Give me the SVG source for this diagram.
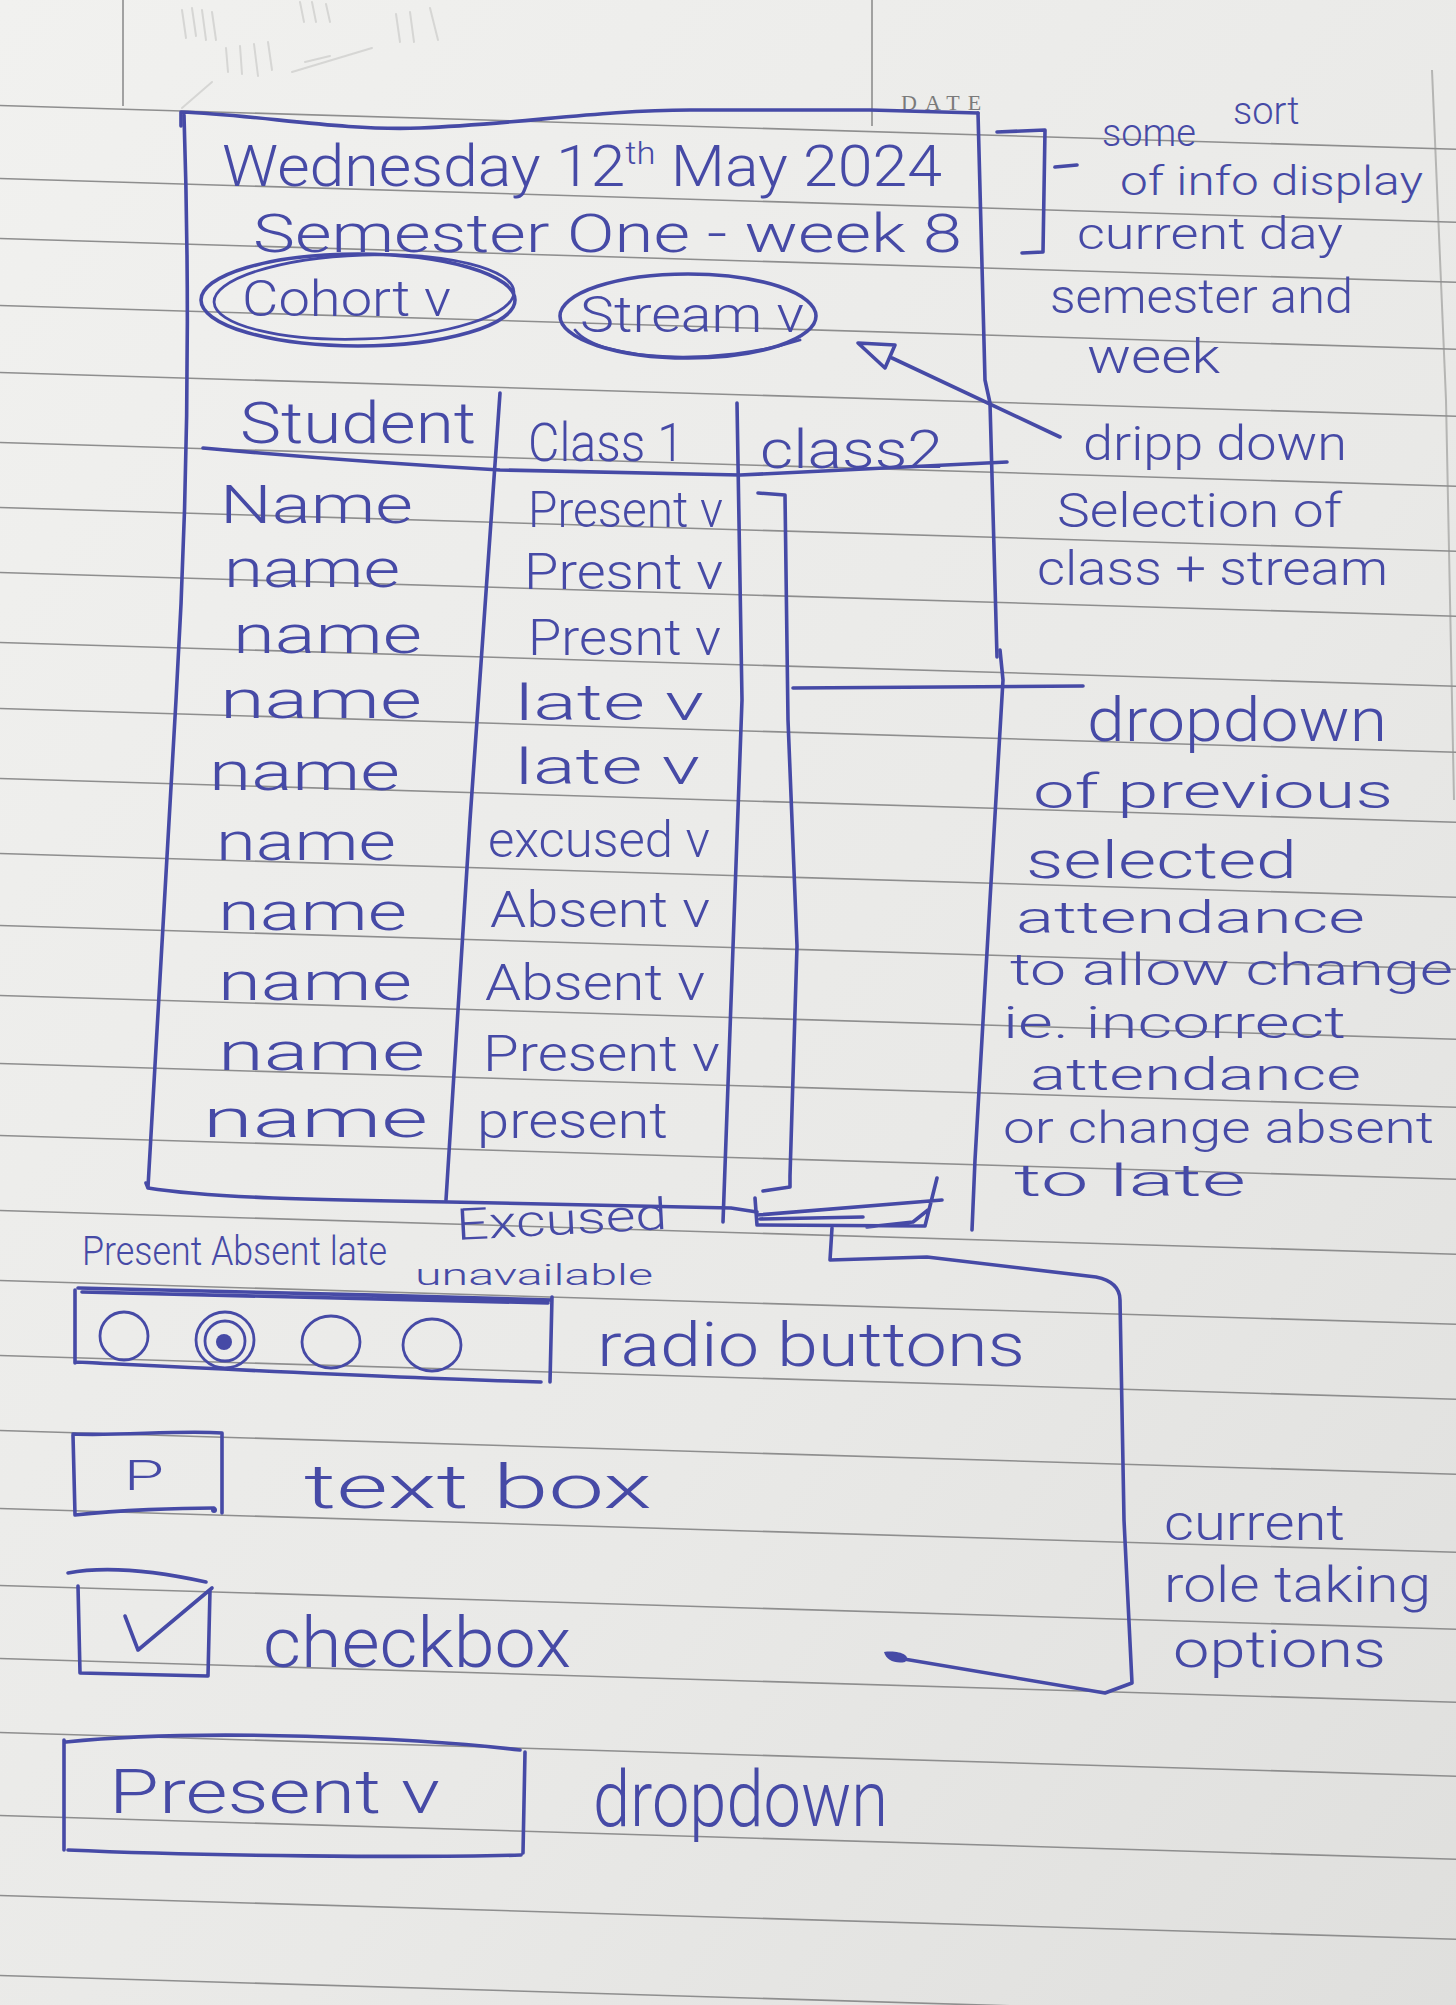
<svg xmlns="http://www.w3.org/2000/svg" width="1456" height="2005" viewBox="0 0 1456 2005">
<defs>
<linearGradient id="paperGrad" x1="0" y1="0" x2="1" y2="1">
<stop offset="0" stop-color="#f1f1ef"/>
<stop offset="0.6" stop-color="#e9e9e7"/>
<stop offset="1" stop-color="#dfdfdd"/>
</linearGradient>
<style>
.rule{stroke:#8e8e8e;stroke-width:1.6;fill:none}
.faint{stroke:#d6d6d4;stroke-width:2;fill:none;stroke-linecap:round}
.ink{fill:none;stroke:#464aa6;stroke-width:3.6;stroke-linecap:round;stroke-linejoin:round}
.inkThin{fill:none;stroke:#464aa6;stroke-width:2.8;stroke-linecap:round;stroke-linejoin:round}
.t{fill:#464aa6;font-family:Roboto,"DejaVu Sans",sans-serif;font-weight:300}
.date{fill:#7a7a7a;font-family:"Liberation Serif","DejaVu Serif",serif;font-size:22px;letter-spacing:8px}
</style>
</defs>

<g id="paper">
<rect x="0" y="0" width="1456" height="2005" fill="url(#paperGrad)"/>
<path class="rule" d="M123,0 L123,106 M872,0 L872,126"/>
<path d="M1432,70 L1446,400 L1454,800" stroke="#b5b5b3" stroke-width="2" fill="none"/>
<g id="ruled-lines">
<path class="rule" d="M0,105.5 L1456,149.2 M0,178.5 L1456,222.2 M0,238.5 L1456,282.2 M0,305.5 L1456,349.2 M0,372.5 L1456,416.2 M0,442.5 L1456,486.2 M0,507.5 L1456,551.2 M0,572.5 L1456,616.2 M0,642.5 L1456,686.2 M0,708.5 L1456,752.2 M0,778.5 L1456,822.2 M0,853.5 L1456,897.2 M0,925.5 L1456,969.2 M0,995.5 L1456,1039.2 M0,1063.5 L1456,1107.2 M0,1135.5 L1456,1179.2 M0,1210.5 L1456,1254.2 M0,1280.5 L1456,1324.2 M0,1355.5 L1456,1399.2 M0,1430.5 L1456,1474.2 M0,1508.5 L1456,1552.2 M0,1585.5 L1456,1629.2 M0,1658.5 L1456,1702.2 M0,1732.5 L1456,1776.2 M0,1815.5 L1456,1859.2 M0,1895.5 L1456,1939.2 M0,1975.5 L1456,2019.2"/>
</g>
<text class="date" x="901" y="110">DATE</text>
<g id="pencil-marks">
<path class="faint" d="M182,10 L186,38 M192,8 L196,36 M202,10 L206,40 M212,12 L216,40 M300,2 L304,22 M312,2 L316,22 M326,4 L330,22 M396,14 L400,42 M410,12 L414,42 M430,8 L438,40 M226,48 L228,72 M240,46 L242,74 M254,44 L258,76 M268,42 L272,70 M292,72 L372,48 M305,62 L330,56 M182,108 L212,82"/>
</g>
</g>

<g id="attendance-frame">
<path class="ink" d="M181,126 L181,112 C260,115 340,131 420,128 C520,124 600,110 690,110 L870,110 L978,113"/>
<path class="ink" d="M184,115 C190,300 188,500 176,700 L148,1187"/>
<path class="ink" d="M978,113 L985,380 L990,403 L997,657"/>
<path class="ink" d="M1000,650 L1003,680 L990,900 L975,1160 L972,1230"/>
<path class="ink" d="M146,1183 L148,1188 C210,1198 320,1200 449,1202 L731,1208 L757,1212"/>
</g>

<g id="header-info">
<text class="t" x="222" y="186" font-size="58" textLength="720" lengthAdjust="spacingAndGlyphs">Wednesday 12<tspan font-size="32" dy="-22">th</tspan><tspan dy="22"> May 2024</tspan></text>
<text class="t" x="253" y="252" font-size="54" textLength="709" lengthAdjust="spacingAndGlyphs">Semester One - week 8</text>
</g>

<g id="cohort-dropdown">
<ellipse class="ink" cx="358" cy="300" rx="157" ry="46"/>
<ellipse class="inkThin" cx="364" cy="297" rx="150" ry="42" transform="rotate(-2 364 297)"/>
<text class="t" x="242" y="316" font-size="50" textLength="209" lengthAdjust="spacingAndGlyphs">Cohort v</text>
</g>

<g id="stream-dropdown">
<ellipse class="ink" cx="688" cy="316" rx="128" ry="42"/>
<path class="inkThin" d="M575,330 C600,362 720,366 800,340"/>
<text class="t" x="580" y="332" font-size="50" textLength="224" lengthAdjust="spacingAndGlyphs">Stream v</text>
</g>

<g id="attendance-table">
<path class="ink" d="M203,448 C280,455 360,462 500,470 L740,475 L1007,462"/>
<path class="ink" d="M500,393 L470,820 L446,1200"/>
<path class="ink" d="M737,403 L742,700 L723,1222"/>
<text class="t" x="240" y="443" font-size="58" textLength="236" lengthAdjust="spacingAndGlyphs">Student</text>
<text class="t" x="528" y="461" font-size="54" textLength="156" lengthAdjust="spacingAndGlyphs">Class 1</text>
<text class="t" x="760" y="468" font-size="54" textLength="183" lengthAdjust="spacingAndGlyphs">class2</text>

<text class="t" x="220" y="523" font-size="53" textLength="193" lengthAdjust="spacingAndGlyphs">Name</text>
<text class="t" x="224" y="587" font-size="53" textLength="176" lengthAdjust="spacingAndGlyphs">name</text>
<text class="t" x="233" y="653" font-size="53" textLength="189" lengthAdjust="spacingAndGlyphs">name</text>
<text class="t" x="220" y="718" font-size="53" textLength="202" lengthAdjust="spacingAndGlyphs">name</text>
<text class="t" x="209" y="790" font-size="53" textLength="191" lengthAdjust="spacingAndGlyphs">name</text>
<text class="t" x="216" y="860" font-size="53" textLength="180" lengthAdjust="spacingAndGlyphs">name</text>
<text class="t" x="218" y="930" font-size="53" textLength="189" lengthAdjust="spacingAndGlyphs">name</text>
<text class="t" x="218" y="1000" font-size="53" textLength="194" lengthAdjust="spacingAndGlyphs">name</text>
<text class="t" x="218" y="1070" font-size="53" textLength="207" lengthAdjust="spacingAndGlyphs">name</text>
<text class="t" x="203" y="1137" font-size="53" textLength="225" lengthAdjust="spacingAndGlyphs">name</text>

<text class="t" x="528" y="527" font-size="50" textLength="195" lengthAdjust="spacingAndGlyphs">Present v</text>
<text class="t" x="524" y="589" font-size="50" textLength="199" lengthAdjust="spacingAndGlyphs">Presnt v</text>
<text class="t" x="528" y="655" font-size="50" textLength="193" lengthAdjust="spacingAndGlyphs">Presnt v</text>
<text class="t" x="515" y="720" font-size="50" textLength="189" lengthAdjust="spacingAndGlyphs">late   v</text>
<text class="t" x="515" y="784" font-size="50" textLength="185" lengthAdjust="spacingAndGlyphs">late   v</text>
<text class="t" x="488" y="857" font-size="50" textLength="222" lengthAdjust="spacingAndGlyphs">excused v</text>
<text class="t" x="490" y="927" font-size="50" textLength="220" lengthAdjust="spacingAndGlyphs">Absent v</text>
<text class="t" x="485" y="1000" font-size="50" textLength="220" lengthAdjust="spacingAndGlyphs">Absent v</text>
<text class="t" x="483" y="1071" font-size="50" textLength="237" lengthAdjust="spacingAndGlyphs">Present v</text>
<text class="t" x="477" y="1138" font-size="50" textLength="191" lengthAdjust="spacingAndGlyphs">present</text>
</g>

<g id="collapsed-dropdown">
<path class="ink" d="M755,1198 L757,1225 L925,1226 L937,1178 M757,1215 L942,1200 M760,1219 L863,1217 M867,1227 L913,1222 L928,1210"/>
</g>

<g id="note-info-display">
<text class="t" font-size="38"><tspan x="1102" y="146">some </tspan><tspan x="1233" y="124">sort</tspan></text>
<text class="t" x="1120" y="195" font-size="40" textLength="303" lengthAdjust="spacingAndGlyphs">of info display</text>
<text class="t" x="1077" y="249" font-size="44" textLength="266" lengthAdjust="spacingAndGlyphs">current day</text>
<text class="t" x="1050" y="313" font-size="48" textLength="303" lengthAdjust="spacingAndGlyphs">semester and</text>
<text class="t" x="1087" y="373" font-size="48" textLength="133" lengthAdjust="spacingAndGlyphs">week</text>
</g>

<g id="note-class-stream">
<text class="t" x="1083" y="460" font-size="48" textLength="264" lengthAdjust="spacingAndGlyphs">dripp down</text>
<text class="t" x="1057" y="527" font-size="48" textLength="285" lengthAdjust="spacingAndGlyphs">Selection of</text>
<text class="t" x="1037" y="585" font-size="48" textLength="351" lengthAdjust="spacingAndGlyphs">class + stream</text>
</g>

<g id="note-previous-attendance">
<text class="t" x="1087" y="741" font-size="62" textLength="300" lengthAdjust="spacingAndGlyphs">dropdown</text>
<text class="t" x="1033" y="808" font-size="48" textLength="360" lengthAdjust="spacingAndGlyphs">of previous</text>
<text class="t" x="1026" y="878" font-size="52" textLength="271" lengthAdjust="spacingAndGlyphs">selected</text>
<text class="t" x="1016" y="933" font-size="44" textLength="349" lengthAdjust="spacingAndGlyphs">attendance</text>
<text class="t" x="1010" y="985" font-size="44" textLength="443" lengthAdjust="spacingAndGlyphs">to allow change</text>
<text class="t" x="1003" y="1038" font-size="44" textLength="343" lengthAdjust="spacingAndGlyphs">ie. incorrect</text>
<text class="t" x="1030" y="1090" font-size="44" textLength="331" lengthAdjust="spacingAndGlyphs">attendance</text>
<text class="t" x="1003" y="1143" font-size="44" textLength="431" lengthAdjust="spacingAndGlyphs">or change absent</text>
<text class="t" x="1014" y="1196" font-size="44" textLength="232" lengthAdjust="spacingAndGlyphs">to late</text>
</g>

<g id="radio-buttons">
<text class="t" x="82" y="1265" font-size="40" textLength="305" lengthAdjust="spacingAndGlyphs">Present Absent late</text>
<text class="t" x="457" y="1240" font-size="44" textLength="211" lengthAdjust="spacingAndGlyphs" transform="rotate(-3 457 1240)">Excused</text>
<text class="t" x="415" y="1285" font-size="30" textLength="238" lengthAdjust="spacingAndGlyphs">unavailable</text>
<path class="ink" d="M75,1290 L75,1363 M78,1288 C200,1290 400,1296 552,1300 M82,1292 C220,1294 380,1300 548,1303 M75,1362 C200,1368 400,1378 541,1382 M552,1297 L550,1382"/>
<ellipse class="inkThin" cx="124" cy="1336" rx="24" ry="24"/>
<ellipse class="inkThin" cx="225" cy="1340" rx="29" ry="28"/>
<ellipse class="inkThin" cx="225" cy="1341" rx="20" ry="20"/>
<circle cx="224" cy="1342" r="8" fill="#464aa6"/>
<ellipse class="inkThin" cx="331" cy="1342" rx="29" ry="26"/>
<ellipse class="inkThin" cx="432" cy="1345" rx="29" ry="26"/>
<text class="t" x="597" y="1366" font-size="62" textLength="428" lengthAdjust="spacingAndGlyphs">radio buttons</text>
</g>

<g id="text-box">
<path class="ink" d="M73,1435 L75,1515 M73,1434 C120,1436 180,1430 222,1433 M75,1515 C120,1510 180,1508 214,1508 M222,1433 L222,1513"/>
<circle cx="214" cy="1510" r="3" fill="#464aa6"/>
<text class="t" x="124" y="1490" font-size="42" textLength="40" lengthAdjust="spacingAndGlyphs">P</text>
<text class="t" x="304" y="1508" font-size="62" textLength="348" lengthAdjust="spacingAndGlyphs">text box</text>
</g>

<g id="checkbox">
<path class="ink" d="M68,1573 C110,1565 160,1572 206,1582 M78,1586 L80,1673 L208,1676 M210,1590 L208,1676 M125,1616 L138,1650 L212,1588"/>
<text class="t" x="263" y="1667" font-size="70" textLength="308" lengthAdjust="spacingAndGlyphs">checkbox</text>
</g>

<g id="dropdown-example">
<path class="ink" d="M64,1740 L64,1850 M66,1742 C200,1728 420,1738 520,1750 M68,1850 C200,1856 420,1858 521,1855 M525,1752 L523,1853"/>
<text class="t" x="109" y="1813" font-size="62" textLength="331" lengthAdjust="spacingAndGlyphs">Present v</text>
<text class="t" x="593" y="1826" font-size="78" textLength="295" lengthAdjust="spacingAndGlyphs">dropdown</text>
</g>

<g id="note-current-options">
<text class="t" x="1164" y="1540" font-size="50" textLength="181" lengthAdjust="spacingAndGlyphs">current</text>
<text class="t" x="1164" y="1602" font-size="50" textLength="267" lengthAdjust="spacingAndGlyphs">role taking</text>
<text class="t" x="1173" y="1667" font-size="52" textLength="213" lengthAdjust="spacingAndGlyphs">options</text>
</g>

<g id="connectors">
<path class="ink" d="M997,132 L1045,130 L1043,252 L1022,253"/>
<path class="ink" d="M1055,167 L1077,165"/>
<path class="ink" d="M1060,437 L892,358"/>
<path class="ink" d="M858,343 L895,345 L885,368 Z"/>
<path class="ink" d="M758,493 L785,495 L788,720 L797,946 L790,1176 L790,1187 L763,1191"/>
<path class="ink" d="M793,688 L1083,686"/>
<path class="ink" d="M832,1228 L830,1260 L927,1257 L1096,1277 Q1120,1282 1120,1300 L1124,1520 L1132,1683 L1105,1693 L892,1657"/>
<path d="M884,1652 C900,1650 912,1656 905,1662 C895,1664 886,1660 884,1652 Z" fill="#464aa6"/>
</g>
</svg>
